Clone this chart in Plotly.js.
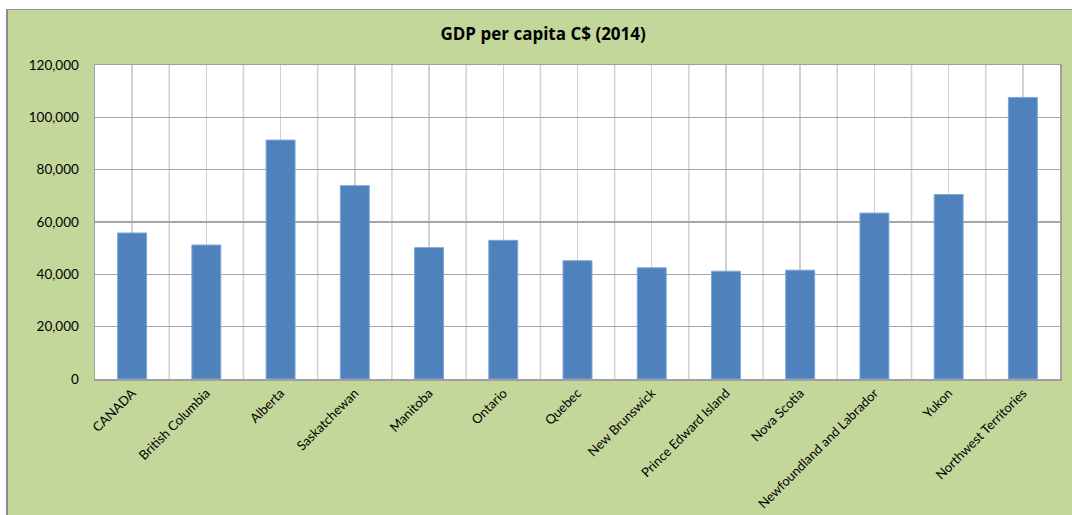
<!DOCTYPE html>
<html>
<head>
<meta charset="utf-8">
<script src="https://cdn.plot.ly/plotly-3.0.1.min.js"></script>
<style>
  html, body { margin: 0; padding: 0; background: #ffffff; width: 1072px; height: 515px; overflow: hidden; }
  #chart { position: absolute; left: 6px; top: 9px; width: 1066px; height: 505px;
           border-left: 2px solid #8c8c8c; border-top: 1px solid #9a9a9a; }
</style>
</head>
<body>
<div id="chart"></div>
<script>
const regions = ["CANADA", "British Columbia", "Alberta", "Saskatchewan", "Manitoba", "Ontario",
  "Quebec", "New Brunswick", "Prince Edward Island", "Nova Scotia",
  "Newfoundland and Labrador", "Yukon", "Northwest Territories"];
const gdpPerCapita = [55800, 51200, 91300, 73900, 50200, 53000, 45200, 42500, 41200, 41600, 63400, 70500, 107600];
const yTickVals = [0, 20000, 40000, 60000, 80000, 100000, 120000];
const yTickText = ["0", "20,000", "40,000", "60,000", "80,000", "100,000", "120,000"];
const chartTitle = "GDP per capita C$ (2014)";

// boundary gridlines between categories
const boundaryShapes = [];
for (let i = 0; i < regions.length - 1; i++) {
  boundaryShapes.push({
    type: "line", xref: "x", yref: "paper", x0: i + 0.5, x1: i + 0.5, y0: 0, y1: 1,
    line: { color: "#d0d0d0", width: 1.5 }, layer: "below"
  });
}

const trace = {
  type: "bar",
  x: regions,
  y: gdpPerCapita,
  marker: { color: "#4f81bd", line: { color: "#7fa6d6", width: 1 } },
  hoverinfo: "x+y"
};

const layout = {
  width: 1066, height: 505,
  margin: { l: 87, r: 14, t: 55, b: 136, pad: 0 },
  paper_bgcolor: "#c4d79b",
  plot_bgcolor: "#ffffff",
  showlegend: false,
  bargap: 0.61,
  title: {
    text: "<b>" + chartTitle + "</b>",
    font: { family: "'Open Sans', Lato, sans-serif", size: 17, color: "#000000" },
    x: 0.502, xref: "container", xanchor: "center",
    y: 0.953, yref: "container", yanchor: "middle"
  },
  xaxis: {
    type: "category",
    tickangle: -45,
    showgrid: true, gridcolor: "#d0d0d0", gridwidth: 1.5,
    showline: true, linecolor: "#a0a0a0", linewidth: 1.5, mirror: true,
    ticks: "",
    tickfont: { family: "Lato, 'Open Sans', sans-serif", size: 13, color: "#000000" },
    automargin: false
  },
  yaxis: {
    range: [0, 120000],
    tickvals: yTickVals, ticktext: yTickText,
    showgrid: true, gridcolor: "#a6a6a6", gridwidth: 1.5,
    showline: true, linecolor: "#a0a0a0", linewidth: 1.5, mirror: true,
    zeroline: false,
    ticks: "",
    ticklabelstandoff: 12,
    tickfont: { family: "Lato, 'Open Sans', sans-serif", size: 13.5, color: "#000000" },
    automargin: false
  },
  shapes: boundaryShapes
};

Plotly.newPlot("chart", [trace], layout, { displayModeBar: false, staticPlot: true });
</script>
</body>
</html>
